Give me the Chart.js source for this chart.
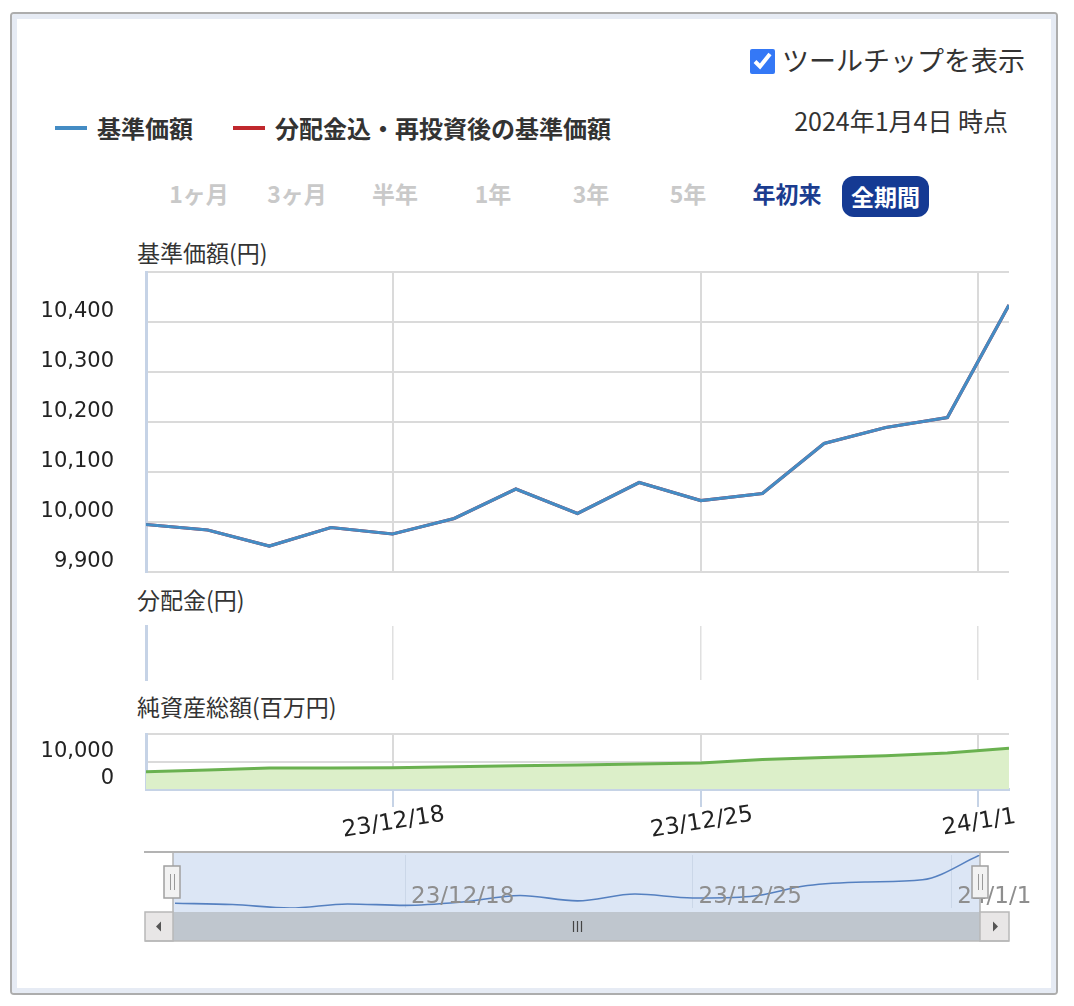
<!DOCTYPE html>
<html><head><meta charset="utf-8">
<script src="https://cdn.jsdelivr.net/npm/chart.js@4.4.0/dist/chart.umd.min.js"></script>
<style>
html,body{margin:0;padding:0;background:#fff;}
body{width:1074px;height:1006px;position:relative;overflow:hidden;font-family:"Noto Sans CJK JP",sans-serif;color:#333;}
.frame{position:absolute;left:10px;top:12px;width:1048px;height:983px;box-sizing:border-box;border:2px solid #adadad;border-radius:4px;}
.frame-inner{position:absolute;left:0;top:0;right:0;bottom:0;border:5px solid #e6ebf4;border-radius:2px;}
.abs{position:absolute;white-space:nowrap;line-height:1;}
canvas{position:absolute;left:0;}
.btn{position:absolute;width:100px;text-align:center;font-size:23px;font-weight:bold;line-height:1;color:#c9c9c9;top:182px;}
.leg-line{position:absolute;width:32px;height:4px;top:126px;}
.title{position:absolute;left:137px;font-size:23px;line-height:1;color:#333;white-space:nowrap;}
#cb{position:absolute;left:750px;top:49px;width:25px;height:25px;margin:0;accent-color:#3478f6;}
</style></head>
<body>
<div class="frame"><div class="frame-inner"></div></div>
<input type="checkbox" id="cb" checked>
<div class="abs" style="left:782px;top:46px;font-size:27px;color:#333;">ツールチップを表示</div>
<div class="leg-line" style="left:55px;background:#448cc4;"></div>
<div class="abs" style="left:97px;top:116px;font-size:24px;font-weight:bold;color:#333;">基準価額</div>
<div class="leg-line" style="left:233px;background:#c0282d;"></div>
<div class="abs" style="left:275px;top:116px;font-size:24px;font-weight:bold;color:#333;">分配金込・再投資後の基準価額</div>
<div class="abs" style="right:66px;top:108px;font-size:25px;color:#333;">2024年1月4日 時点</div>
<div class="btn" style="left:149px;">1ヶ月</div>
<div class="btn" style="left:247px;">3ヶ月</div>
<div class="btn" style="left:345px;">半年</div>
<div class="btn" style="left:443px;">1年</div>
<div class="btn" style="left:541px;">3年</div>
<div class="btn" style="left:638px;">5年</div>
<div class="btn" style="left:737px;color:#1b3c8f;">年初来</div>
<div class="abs" style="left:842px;top:176px;width:87px;height:41px;line-height:41px;border-radius:12px;background:#153a93;color:#fff;font-size:23px;font-weight:bold;text-align:center;">全期間</div>
<div class="title" style="top:241px;">基準価額(円)</div>
<div class="title" style="top:588px;">分配金(円)</div>
<div class="title" style="top:695px;">純資産総額(百万円)</div>

<canvas id="main" width="1074" height="320" style="top:262px"></canvas>
<canvas id="dist" width="1074" height="74" style="top:616px"></canvas>
<canvas id="net" width="1074" height="130" style="top:724px"></canvas>
<canvas id="navi" width="1074" height="100" style="top:846px"></canvas>

<script>
// ---- data ----
const dates = ['23/12/12','23/12/13','23/12/14','23/12/15','23/12/18','23/12/19','23/12/20','23/12/21','23/12/22','23/12/25','23/12/26','23/12/27','23/12/28','23/12/29','24/1/4'];
const nav = [9995, 9984, 9952, 9989, 9976, 10007, 10066, 10017, 10079, 10043, 10057, 10157, 10189, 10209, 10434];
const navReinvested = [9995, 9984, 9952, 9989, 9976, 10007, 10066, 10017, 10079, 10043, 10057, 10157, 10189, 10209, 10434];
const netAssets = [6270, 6880, 7600, 7650, 7700, 8080, 8440, 8700, 9060, 9420, 10720, 11450, 12060, 13100, 14850];
const distributions = [];
const tickDates = ['23/12/18', '23/12/25', '24/1/1'];
const tickIndex = [4, 9, 13.5];

const pts = arr => arr.map((v, i) => ({x: i, y: v}));
const numFont = {family: 'DejaVu Sans', size: 21};
const axisBlue = '#c6d3e6';
const gridGray = '#dadada';

function xBase(extra) {
  return Object.assign({
    type: 'linear', min: 0, max: dates.length - 1, offset: false,
    afterBuildTicks: s => { s.ticks = tickIndex.map(v => ({value: v})); }
  }, extra);
}
function yFit(s) { s.width = 146; s.paddingTop = 0; s.paddingBottom = 0; }
function xFit(h) { return s => { s.height = h; s.paddingLeft = 0; s.paddingRight = 0; }; }
const common = {
  responsive: false, animation: false, events: [],
  plugins: {legend: {display: false}, tooltip: {enabled: false}},
  elements: {point: {radius: 0}, line: {tension: 0}}
};
const yTickGrid = {color: gridGray, lineWidth: 2, drawTicks: true, tickLength: 32, tickColor: 'rgba(0,0,0,0)'};

// ---- main pane ----
new Chart(document.getElementById('main'), {
  type: 'line',
  data: {datasets: [
    {label: '基準価額', data: pts(nav), borderColor: '#448cc4', borderWidth: 3.2},
    {label: '分配金込・再投資後の基準価額', data: pts(navReinvested), borderColor: '#c0282d', borderWidth: 3.2}
  ]},
  options: Object.assign({}, common, {
    layout: {padding: {top: 10, bottom: 10, left: 0, right: 65}},
    scales: {
      x: xBase({
        grid: {color: gridGray, lineWidth: 2, drawTicks: false},
        border: {display: false},
        ticks: {display: false},
        afterFit: xFit(0)
      }),
      y: {
        min: 9900, max: 10500,
        ticks: {stepSize: 100, autoSkip: false, padding: 0, labelOffset: -10, color: '#222', font: numFont,
          callback: v => v >= 10500 ? '' : v.toLocaleString('en-US')},
        grid: yTickGrid,
        border: {color: axisBlue, width: 3},
        afterFit: yFit
      }
    }
  })
});

// ---- distribution pane ----
new Chart(document.getElementById('dist'), {
  type: 'bar',
  data: {datasets: [{label: '分配金', data: distributions.map(d => ({x: dates.indexOf(d.date), y: d.value})), backgroundColor: '#c0282d'}]},
  options: Object.assign({}, common, {
    layout: {padding: {top: 10, bottom: 10, left: 0, right: 65}},
    scales: {
      x: xBase({
        grid: {color: '#e0e0e0', lineWidth: 1.5, drawTicks: false, offset: false},
        border: {display: false},
        ticks: {display: false},
        afterFit: xFit(0)
      }),
      y: {
        min: 0, max: 1,
        ticks: {display: false},
        grid: {display: false},
        border: {color: axisBlue, width: 3},
        afterFit: yFit
      }
    }
  })
});

// ---- net assets pane ----
new Chart(document.getElementById('net'), {
  type: 'line',
  data: {datasets: [
    {label: '純資産総額', data: pts(netAssets), borderColor: '#6ab150', borderWidth: 3, fill: 'origin', backgroundColor: '#dcefc9'}
  ]},
  options: Object.assign({}, common, {
    layout: {padding: {top: 10, bottom: 0, left: 0, right: 65}},
    scales: {
      x: xBase({
        grid: {color: gridGray, lineWidth: 2, drawTicks: true, tickLength: 18, tickColor: axisBlue, tickWidth: 2},
        border: {color: axisBlue, width: 3},
        ticks: {minRotation: 9, maxRotation: 9, padding: -6, labelOffset: 52, color: '#222', font: {family: 'DejaVu Sans', size: 23},
          callback: (v, i) => tickDates[i].padEnd(8, ' ')},
        afterFit: xFit(65)
      }),
      y: {
        min: 0, max: 20000,
        ticks: {stepSize: 10000, autoSkip: false, padding: 0, labelOffset: -10, color: '#222', font: numFont,
          callback: v => v >= 20000 ? '' : v.toLocaleString('en-US')},
        grid: yTickGrid,
        border: {color: axisBlue, width: 3},
        afterFit: yFit
      }
    }
  })
});

// ---- navigator ----
const T = 846; // canvas top on page
const navDecor = {
  id: 'navDecor',
  beforeDraw(chart) {
    const c = chart.ctx;
    c.save();
    c.fillStyle = '#dce6f5';
    c.fillRect(173, 852 - T, 980 - 173, 60);
    c.strokeStyle = '#b3b3b3';
    c.lineWidth = 2;
    c.beginPath(); c.moveTo(144, 852 - T); c.lineTo(1009, 852 - T); c.stroke();
    c.restore();
  },
  afterDraw(chart) {
    const c = chart.ctx;
    c.save();
    c.strokeStyle = '#b3b3b3'; c.lineWidth = 1.5;
    [173, 980].forEach(x => { c.beginPath(); c.moveTo(x, 852 - T); c.lineTo(x, 912 - T); c.stroke(); });
    [172, 980].forEach(x => {
      c.fillStyle = '#f2f2f2'; c.strokeStyle = '#a0a0a0'; c.lineWidth = 1.5;
      c.fillRect(x - 8, 866 - T, 16, 32); c.strokeRect(x - 8, 866 - T, 16, 32);
      c.strokeStyle = '#999'; c.lineWidth = 1;
      [-2, 2].forEach(d => { c.beginPath(); c.moveTo(x + d + 0.5, 874 - T); c.lineTo(x + d + 0.5, 890 - T); c.stroke(); });
    });
    const sy = 912 - T, sh = 29;
    c.fillStyle = '#bfc6ce'; c.fillRect(173, sy, 807, sh);
    c.fillStyle = '#e8e6e6'; c.strokeStyle = '#b8b8b8'; c.lineWidth = 1.5;
    c.fillRect(145, sy, 28, sh); c.strokeRect(145, sy, 28, sh);
    c.fillRect(980, sy, 29, sh); c.strokeRect(980, sy, 29, sh);
    c.strokeStyle = '#b8b8b8'; c.beginPath(); c.moveTo(145, sy + sh); c.lineTo(1009, sy + sh); c.stroke();
    c.fillStyle = '#555';
    c.beginPath(); c.moveTo(156, sy + sh / 2); c.lineTo(161, sy + sh / 2 - 5); c.lineTo(161, sy + sh / 2 + 5); c.fill();
    c.beginPath(); c.moveTo(998, sy + sh / 2); c.lineTo(993, sy + sh / 2 - 5); c.lineTo(993, sy + sh / 2 + 5); c.fill();
    c.strokeStyle = '#444'; c.lineWidth = 1.2;
    [-4, 0, 4].forEach(d => { c.beginPath(); c.moveTo(577 + d + 0.5, sy + 9); c.lineTo(577 + d + 0.5, sy + 20); c.stroke(); });
    c.restore();
  }
};
new Chart(document.getElementById('navi'), {
  type: 'line',
  data: {datasets: [
    {label: '基準価額', data: pts(nav), borderColor: '#5580c0', borderWidth: 1.6, tension: 0.4, cubicInterpolationMode: 'monotone'}
  ]},
  plugins: [navDecor],
  options: Object.assign({}, common, {
    layout: {padding: {top: 9, bottom: 38, left: 175, right: 94}},
    scales: {
      x: xBase({
        grid: {color: '#cbd7e8', lineWidth: 1, drawTicks: false},
        border: {display: false},
        ticks: {z: 1, mirror: true, align: 'start', minRotation: 0, maxRotation: 0, padding: -3, labelOffset: 6, color: '#8e8e8e', font: {family: 'DejaVu Sans', size: 23},
          callback: (v, i) => tickDates[i]},
        afterFit: xFit(0)
      }),
      y: {display: false, min: Math.min(...nav), max: Math.max(...nav)}
    }
  })
});
</script>
</body></html>
